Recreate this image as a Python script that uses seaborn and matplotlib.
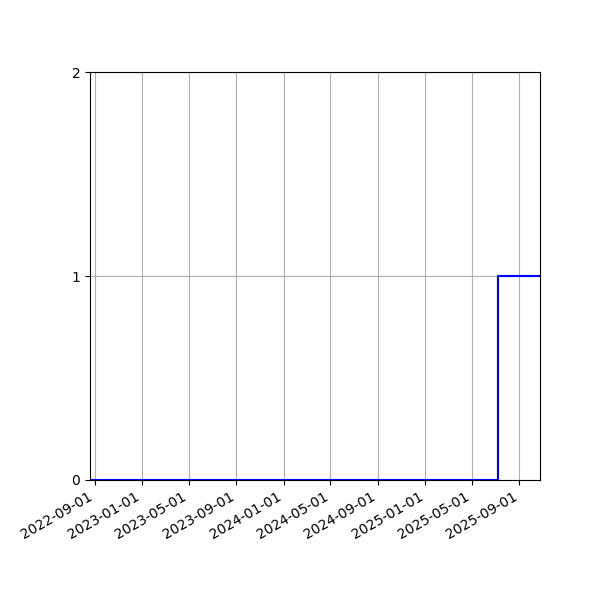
import pandas as pd
import matplotlib
matplotlib.use("Agg")
import matplotlib.pyplot as plt
import matplotlib.dates as mdates
import seaborn as sns

# step series: 0 until the jump, then 1
dates = pd.to_datetime(["2022-08-19", "2025-07-07", "2025-10-24"])
values = [0, 1, 1]
y_ticks = [0, 1, 2]

df = pd.DataFrame({"date": dates, "value": values})

fig, ax = plt.subplots(figsize=(6, 6), dpi=100)
sns.lineplot(data=df, x="date", y="value", ax=ax, color="blue",
             drawstyle="steps-post", linewidth=1.5)

ax.set_xlim(dates.min(), dates.max())
ax.set_ylim(0, 2)
ax.set_yticks(y_ticks)
ax.xaxis.set_major_locator(mdates.MonthLocator(bymonth=[1, 5, 9], bymonthday=1))
ax.xaxis.set_major_formatter(mdates.DateFormatter("%Y-%m-%d"))
ax.grid(True)
ax.set_xlabel("")
ax.set_ylabel("")
fig.autofmt_xdate()
fig.subplots_adjust(left=0.15, right=0.9, top=0.88, bottom=0.2)

fig.savefig("out.png", dpi=100)
